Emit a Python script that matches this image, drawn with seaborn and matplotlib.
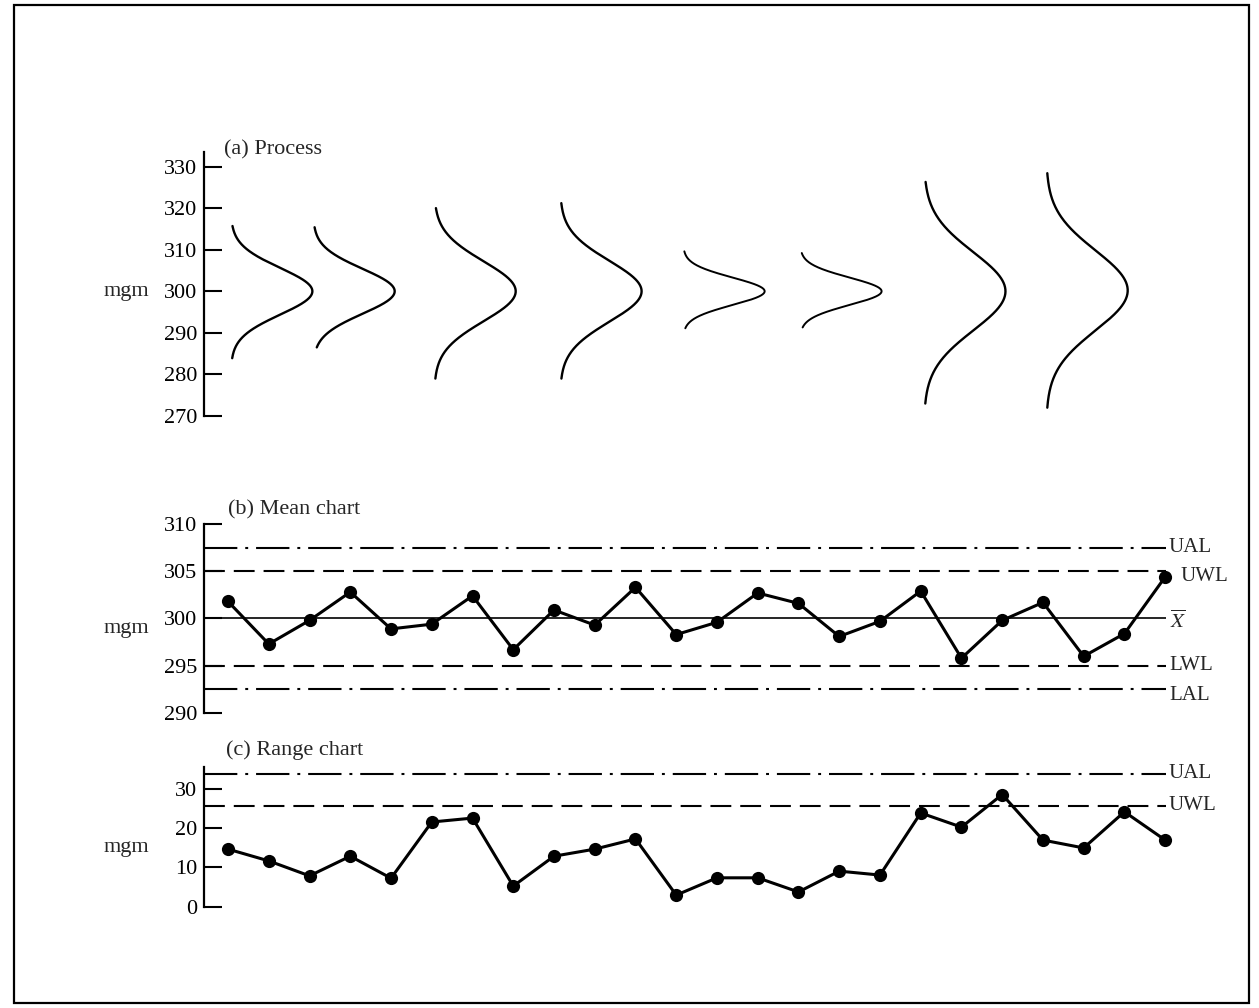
import numpy as np
import pandas as pd
import matplotlib
matplotlib.use("Agg")
import matplotlib.pyplot as plt
import matplotlib.transforms as mtrans
from matplotlib.patches import Rectangle
import seaborn as sns

# (a) process: one bell curve per process state
proc_pos = [1.07, 3.09, 6.06, 9.15, 12.17, 15.04, 18.08, 21.08]
proc_mean = [300.0, 300.0, 300.0, 300.0, 300.0, 300.0, 300.0, 300.2]
proc_sd = [5.6, 5.4, 7.2, 7.3, 3.3, 3.3, 9.4, 9.6]
proc_top = [315.7, 315.4, 320.0, 321.2, 309.6, 309.2, 326.3, 328.4]
proc_bot = [283.9, 286.5, 279.0, 279.0, 291.1, 291.3, 273.0, 272.0]

# (b) and (c) sample means and ranges
sample = list(range(1, 25))
means = [301.8, 297.3, 299.8, 302.8, 298.9, 299.4, 302.4, 296.7, 300.9, 299.3, 303.3, 298.3,
         299.6, 302.7, 301.6, 298.1, 299.7, 302.9, 295.8, 299.8, 301.7, 296.0, 298.4, 304.4]
ranges = [14.6, 11.6, 7.8, 12.8, 7.2, 21.5, 22.5, 5.2, 12.8, 14.6, 17.2, 2.9,
          7.3, 7.3, 3.7, 9.0, 8.0, 23.8, 20.2, 28.5, 16.9, 14.9, 24.1, 16.9]

mean_names = ['UAL', 'UWL', r'$\overline{X}$', 'LWL', 'LAL']
mean_lines = [307.5, 305.0, 300.0, 295.0, 292.5]
range_names = ['UAL', 'UWL']
range_lines = [33.8, 25.7]

proc_ticks = [270, 280, 290, 300, 310, 320, 330]
mean_ticks = [290, 295, 300, 305, 310]
range_ticks = [0, 10, 20, 30]

df = pd.DataFrame({'sample': sample, 'mean': means, 'range': ranges})

sns.set_style("white")
plt.rcParams['font.family'] = ['Liberation Serif', 'DejaVu Serif']
plt.rcParams['mathtext.fontset'] = 'stix'

W, H = 1259, 1008
fig = plt.figure(figsize=(W / 100, H / 100), dpi=100)


def px_axes(top, bottom, left=204, right=1166):
    return fig.add_axes([left / W, 1 - bottom / H, (right - left) / W, (bottom - top) / H])


ax_a = px_axes(152.4, 416)
ax_b = px_axes(524, 713)
ax_c = px_axes(767, 906.5)

ACTION = (16, 3.8, 1.4, 3.8)
WARN = (10, 4.3)


def style(ax, ylim, yticks, ylab_y):
    ax.set_xlim(0.41, 24.02)
    ax.set_ylim(*ylim)
    ax.set_yticks(yticks)
    ax.set_xticks([])
    ax.set_xlabel('')
    for s in ['top', 'right', 'bottom']:
        ax.spines[s].set_visible(False)
    ax.spines['left'].set_linewidth(1.6)
    ax.spines['left'].set_color('black')
    ax.tick_params(axis='y', direction='in', length=13, width=1.5, labelsize=16, pad=5,
                   colors='black', left=True)
    ax.set_ylabel('mgm', rotation=0, fontsize=16, ha='center', va='center')
    ax.yaxis.set_label_coords(-0.081, ylab_y)
    ax.patch.set_visible(False)


# (a) process curves
for pos, mu, sd, top, bot in zip(proc_pos, proc_mean, proc_sd, proc_top, proc_bot):
    yy = np.linspace(bot, top, 300)
    xx = pos + 2.0 * np.exp(-0.5 * ((yy - mu) / sd) ** 2)
    ax_a.plot(xx, yy, color='black', lw=1.4 if sd < 4 else 1.7, solid_capstyle='round')
style(ax_a, (270, 333.4), proc_ticks, 0.474)
ax_a.text(0.021, 1.009, '(a) Process', transform=ax_a.transAxes, fontsize=16,
          ha='left', va='center')

# (b) mean chart
for name, v in zip(mean_names, mean_lines):
    if name in ('UAL', 'LAL'):
        ax_b.axhline(v, color='black', lw=1.5, dashes=ACTION)
    elif name in ('UWL', 'LWL'):
        ax_b.axhline(v, color='black', lw=1.5, dashes=WARN)
    else:
        ax_b.axhline(v, color='black', lw=1.2)
sns.lineplot(data=df, x='sample', y='mean', ax=ax_b, color='black', lw=2.2, marker='o',
             markersize=9.5, markeredgewidth=0, clip_on=False, zorder=3)
style(ax_b, (290, 310), mean_ticks, 0.447)
ax_b.text(0.025, 1.075, '(b) Mean chart', transform=ax_b.transAxes, fontsize=16,
          ha='left', va='center')
tb = mtrans.blended_transform_factory(ax_b.transAxes, ax_b.transData)
lab_off = {'UAL': (1.003, 0), 'UWL': (1.015, -0.6), r'$\overline{X}$': (1.004, -0.3),
           'LWL': (1.003, 0), 'LAL': (1.003, -0.7)}
for name, v in zip(mean_names, mean_lines):
    dx, dy = lab_off[name]
    ax_b.text(dx, v + dy, name, transform=tb, fontsize=15, ha='left', va='center')

# (c) range chart
for name, v in zip(range_names, range_lines):
    ax_c.axhline(v, color='black', lw=1.5, dashes=ACTION if name == 'UAL' else WARN)
sns.lineplot(data=df, x='sample', y='range', ax=ax_c, color='black', lw=2.2, marker='o',
             markersize=9.5, markeredgewidth=0, clip_on=False, zorder=3)
style(ax_c, (0, 35.5), range_ticks, 0.42)
ax_c.text(0.023, 1.122, '(c) Range chart', transform=ax_c.transAxes, fontsize=16,
          ha='left', va='center')
tc = mtrans.blended_transform_factory(ax_c.transAxes, ax_c.transData)
for name, v in zip(range_names, range_lines):
    ax_c.text(1.003, v, name, transform=tc, fontsize=15, ha='left', va='center')

# outer frame
fig.add_artist(Rectangle((14 / W, 1 - 1003 / H), (1249 - 14) / W, (1003 - 5) / H,
                         transform=fig.transFigure, fill=False, lw=1.6, ec='black'))

fig.savefig('out.png', dpi=100)
